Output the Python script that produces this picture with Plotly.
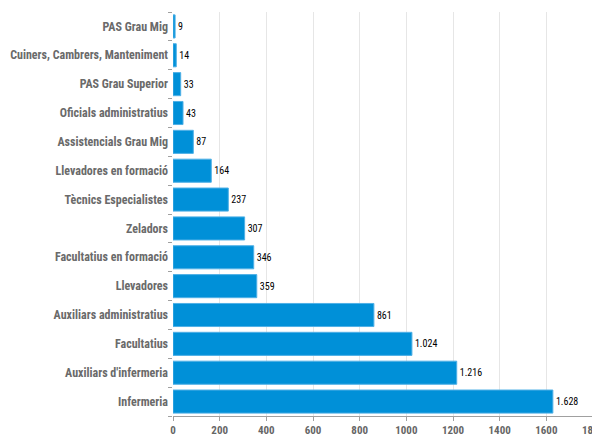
import plotly.graph_objects as go

# staff categories, bottom to top
categories = [
    "Infermeria",
    "Auxiliars d'infermeria",
    "Facultatius",
    "Auxiliars administratius",
    "Llevadores",
    "Facultatius en formació",
    "Zeladors",
    "Tècnics Especialistes",
    "Llevadores en formació",
    "Assistencials Grau Mig",
    "Oficials administratius",
    "PAS Grau Superior",
    "Cuiners, Cambrers, Manteniment",
    "PAS Grau Mig",
]
counts = [1628, 1216, 1024, 861, 359, 346, 307, 237, 164, 87, 43, 33, 14, 9]
x_ticks = [0, 200, 400, 600, 800, 1000, 1200, 1400, 1600, 1800]

label_font = "Liberation Sans Narrow, Arial Narrow, Roboto Condensed, Roboto, sans-serif"

fig = go.Figure()
fig.add_trace(
    go.Bar(
        y=categories,
        x=counts,
        orientation="h",
        marker=dict(color="#0090d8", line=dict(color="#4fb0e6", width=1)),
        texttemplate="%{x:,}",
        textposition="outside",
        textfont=dict(family=label_font, size=10, color="#000000"),
        cliponaxis=False,
        hoverinfo="x+y",
    )
)

# the page body adds an 8px offset, so margins are shifted to compensate
fig.update_layout(
    width=600,
    height=436,
    margin=dict(l=165, r=15, t=4, b=28, autoexpand=False),
    plot_bgcolor="white",
    paper_bgcolor="white",
    bargap=0.2,
    showlegend=False,
    separators=",.",
)
fig.update_xaxes(
    range=[0, 1800],
    tickvals=x_ticks,
    automargin=False,
    showgrid=True,
    gridcolor="#e6e6e6",
    gridwidth=1,
    zeroline=False,
    showline=True,
    linecolor="#a0a0a0",
    linewidth=1,
    ticks="outside",
    ticklen=4,
    tickcolor="#a0a0a0",
    tickfont=dict(family=label_font, size=11, color="#666666", weight="bold"),
)
fig.update_yaxes(
    categoryorder="array",
    categoryarray=categories,
    automargin=False,
    showgrid=False,
    zeroline=False,
    showline=False,
    ticks="outside",
    tickson="boundaries",
    ticklen=4,
    tickcolor="#a0a0a0",
    ticklabelstandoff=4,
    tickfont=dict(family=label_font, size=12, color="#6a6a6a", weight="bold"),
)

fig.write_html("out.html")
